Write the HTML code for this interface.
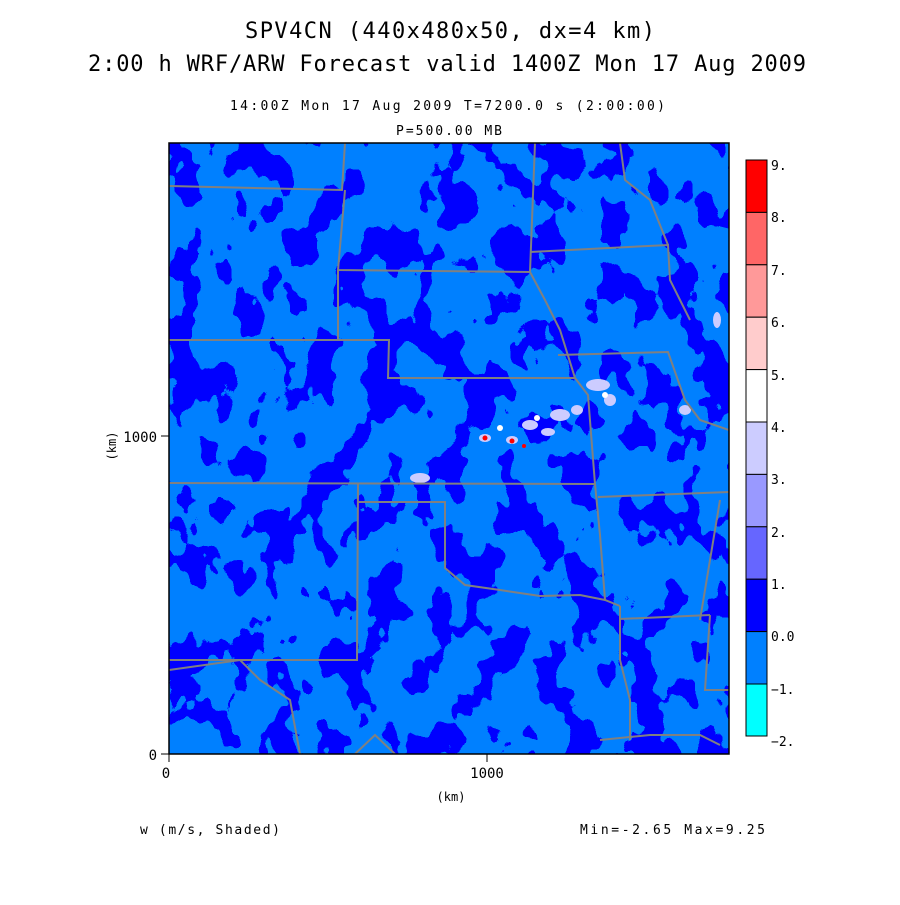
<!DOCTYPE html>
<html><head><style>
body{margin:0;background:#fff;width:900px;height:900px;overflow:hidden}
svg text{font-family:"DejaVu Sans Mono","Liberation Mono",monospace;fill:#000}
</style></head><body>
<svg width="900" height="900" xmlns="http://www.w3.org/2000/svg">
<defs>
<filter id="f" x="0" y="0" width="100%" height="100%" filterUnits="userSpaceOnUse">
<feTurbulence type="fractalNoise" baseFrequency="0.03 0.022" numOctaves="3" seed="7" result="n"/>
<feColorMatrix in="n" type="matrix" values="0 0 0 0 0  0 0 0 0 0  0 0 0 0 0  1 0 0 0 0" result="a"/>
<feComponentTransfer in="a" result="t"><feFuncA type="discrete" tableValues="0 0 0 0 0 0 0 0 0 0 0 1 1 1 1 1 1 1 1 1"/></feComponentTransfer>
<feFlood flood-color="#0000ff"/>
<feComposite in2="t" operator="in"/>
</filter>
<clipPath id="c"><rect x="169" y="143" width="560" height="611"/></clipPath>
</defs>
<text x="245" y="38" font-size="22" textLength="410" lengthAdjust="spacing">SPV4CN (440x480x50, dx=4 km)</text>
<text x="88" y="71" font-size="22" textLength="718" lengthAdjust="spacing">2:00 h WRF/ARW Forecast valid 1400Z Mon 17 Aug 2009</text>
<text x="230" y="110" font-size="13" textLength="435" lengthAdjust="spacing">14:00Z Mon 17 Aug 2009    T=7200.0 s (2:00:00)</text>
<text x="396" y="135" font-size="13" textLength="106" lengthAdjust="spacing">P=500.00 MB</text>
<g clip-path="url(#c)">
<rect x="169" y="143" width="560" height="611" fill="#0080ff"/>
<rect x="169" y="143" width="560" height="611" fill="#00f" filter="url(#f)"/>
<g fill="#ccccff">
<ellipse cx="485" cy="438" rx="6" ry="4"/><ellipse cx="512" cy="440" rx="6" ry="4"/><ellipse cx="530" cy="425" rx="8" ry="5"/>
<ellipse cx="548" cy="432" rx="7" ry="4"/><ellipse cx="560" cy="415" rx="10" ry="6"/><ellipse cx="598" cy="385" rx="12" ry="6"/>
<ellipse cx="610" cy="400" rx="6" ry="6"/><ellipse cx="420" cy="478" rx="10" ry="5"/><ellipse cx="685" cy="410" rx="6" ry="5"/>
<ellipse cx="717" cy="320" rx="4" ry="8"/><ellipse cx="577" cy="410" rx="6" ry="5"/>
</g>
<g fill="#fff"><circle cx="500" cy="428" r="3"/><circle cx="605" cy="395" r="3"/><circle cx="537" cy="418" r="3"/></g>
<g fill="#f00"><circle cx="485" cy="438" r="2.5"/><circle cx="512" cy="441" r="2.5"/><circle cx="524" cy="446" r="2"/></g>
<g fill="none" stroke="#808080" stroke-width="2">
<polyline points="169,186 342,190 345,143"/>
<polyline points="345,190 338,270 530,272 535,143"/>
<polyline points="169,340 338,340 338,270"/>
<polyline points="338,340 389,340 388,378 575,378"/>
<polyline points="530,272 545,300 560,330 575,378 588,395 595,484 169,483"/>
<polyline points="358,484 357,660 169,660"/>
<polyline points="357,502 445,502 445,568 465,585 500,590 540,596 580,595 605,600 620,606"/>
<polyline points="595,484 600,535 605,600"/>
<polyline points="598,497 729,492"/>
<polyline points="620,606 620,619 710,615"/>
<polyline points="620,619 620,660 630,700 630,740"/>
<polyline points="558,355 668,352 685,400 700,420 729,430"/>
<polyline points="530,252 668,245 670,280 690,320"/>
<polyline points="620,143 625,180 650,200 668,245"/>
<polyline points="710,615 705,690 729,690"/>
<polyline points="720,500 710,560 700,620"/>
<polyline points="169,670 240,660 260,680 290,700 300,754"/>
<polyline points="600,740 650,735 700,735 720,745"/>
<polyline points="355,754 375,735 395,754"/>
</g>
</g>
<rect x="169" y="143" width="560" height="611" fill="none" stroke="#000" stroke-width="1.5"/>
<g stroke="#000" stroke-width="1">
<line x1="169" y1="754" x2="169" y2="762"/><line x1="487" y1="754" x2="487" y2="762"/>
<line x1="161" y1="754" x2="169" y2="754"/><line x1="161" y1="436" x2="169" y2="436"/>
</g>
<text x="166" y="778" font-size="14" text-anchor="middle">0</text>
<text x="487" y="778" font-size="14" text-anchor="middle">1000</text>
<text x="451" y="801" font-size="12" text-anchor="middle">(km)</text>
<text x="157" y="760" font-size="14" text-anchor="end">0</text>
<text x="157" y="442" font-size="14" text-anchor="end">1000</text>
<text x="116" y="446" font-size="12" text-anchor="middle" transform="rotate(-90 116 446)">(km)</text>
<g stroke="#000" stroke-width="1">
<rect x="746" y="160" width="21" height="52.4" fill="#ff0000"/>
<rect x="746" y="212.4" width="21" height="52.4" fill="#ff6666"/>
<rect x="746" y="264.8" width="21" height="52.4" fill="#ff9999"/>
<rect x="746" y="317.2" width="21" height="52.4" fill="#ffcccc"/>
<rect x="746" y="369.6" width="21" height="52.4" fill="#ffffff"/>
<rect x="746" y="422" width="21" height="52.4" fill="#ccccff"/>
<rect x="746" y="474.4" width="21" height="52.4" fill="#9999ff"/>
<rect x="746" y="526.8" width="21" height="52.4" fill="#6666ff"/>
<rect x="746" y="579.2" width="21" height="52.4" fill="#0000ff"/>
<rect x="746" y="631.6" width="21" height="52.4" fill="#0080ff"/>
<rect x="746" y="684" width="21" height="52" fill="#00ffff"/>
</g>
<g font-size="13">
<text x="771" y="170">9.</text><text x="771" y="222">8.</text><text x="771" y="275">7.</text>
<text x="771" y="327">6.</text><text x="771" y="380">5.</text><text x="771" y="432">4.</text>
<text x="771" y="484">3.</text><text x="771" y="537">2.</text><text x="771" y="589">1.</text>
<text x="771" y="641">0.0</text><text x="771" y="694">−1.</text><text x="771" y="746">−2.</text>
</g>
<text x="140" y="834" font-size="13" textLength="140" lengthAdjust="spacing">w (m/s, Shaded)</text>
<text x="580" y="834" font-size="13" textLength="185" lengthAdjust="spacing">Min=-2.65 Max=9.25</text>
</svg>
</body></html>
